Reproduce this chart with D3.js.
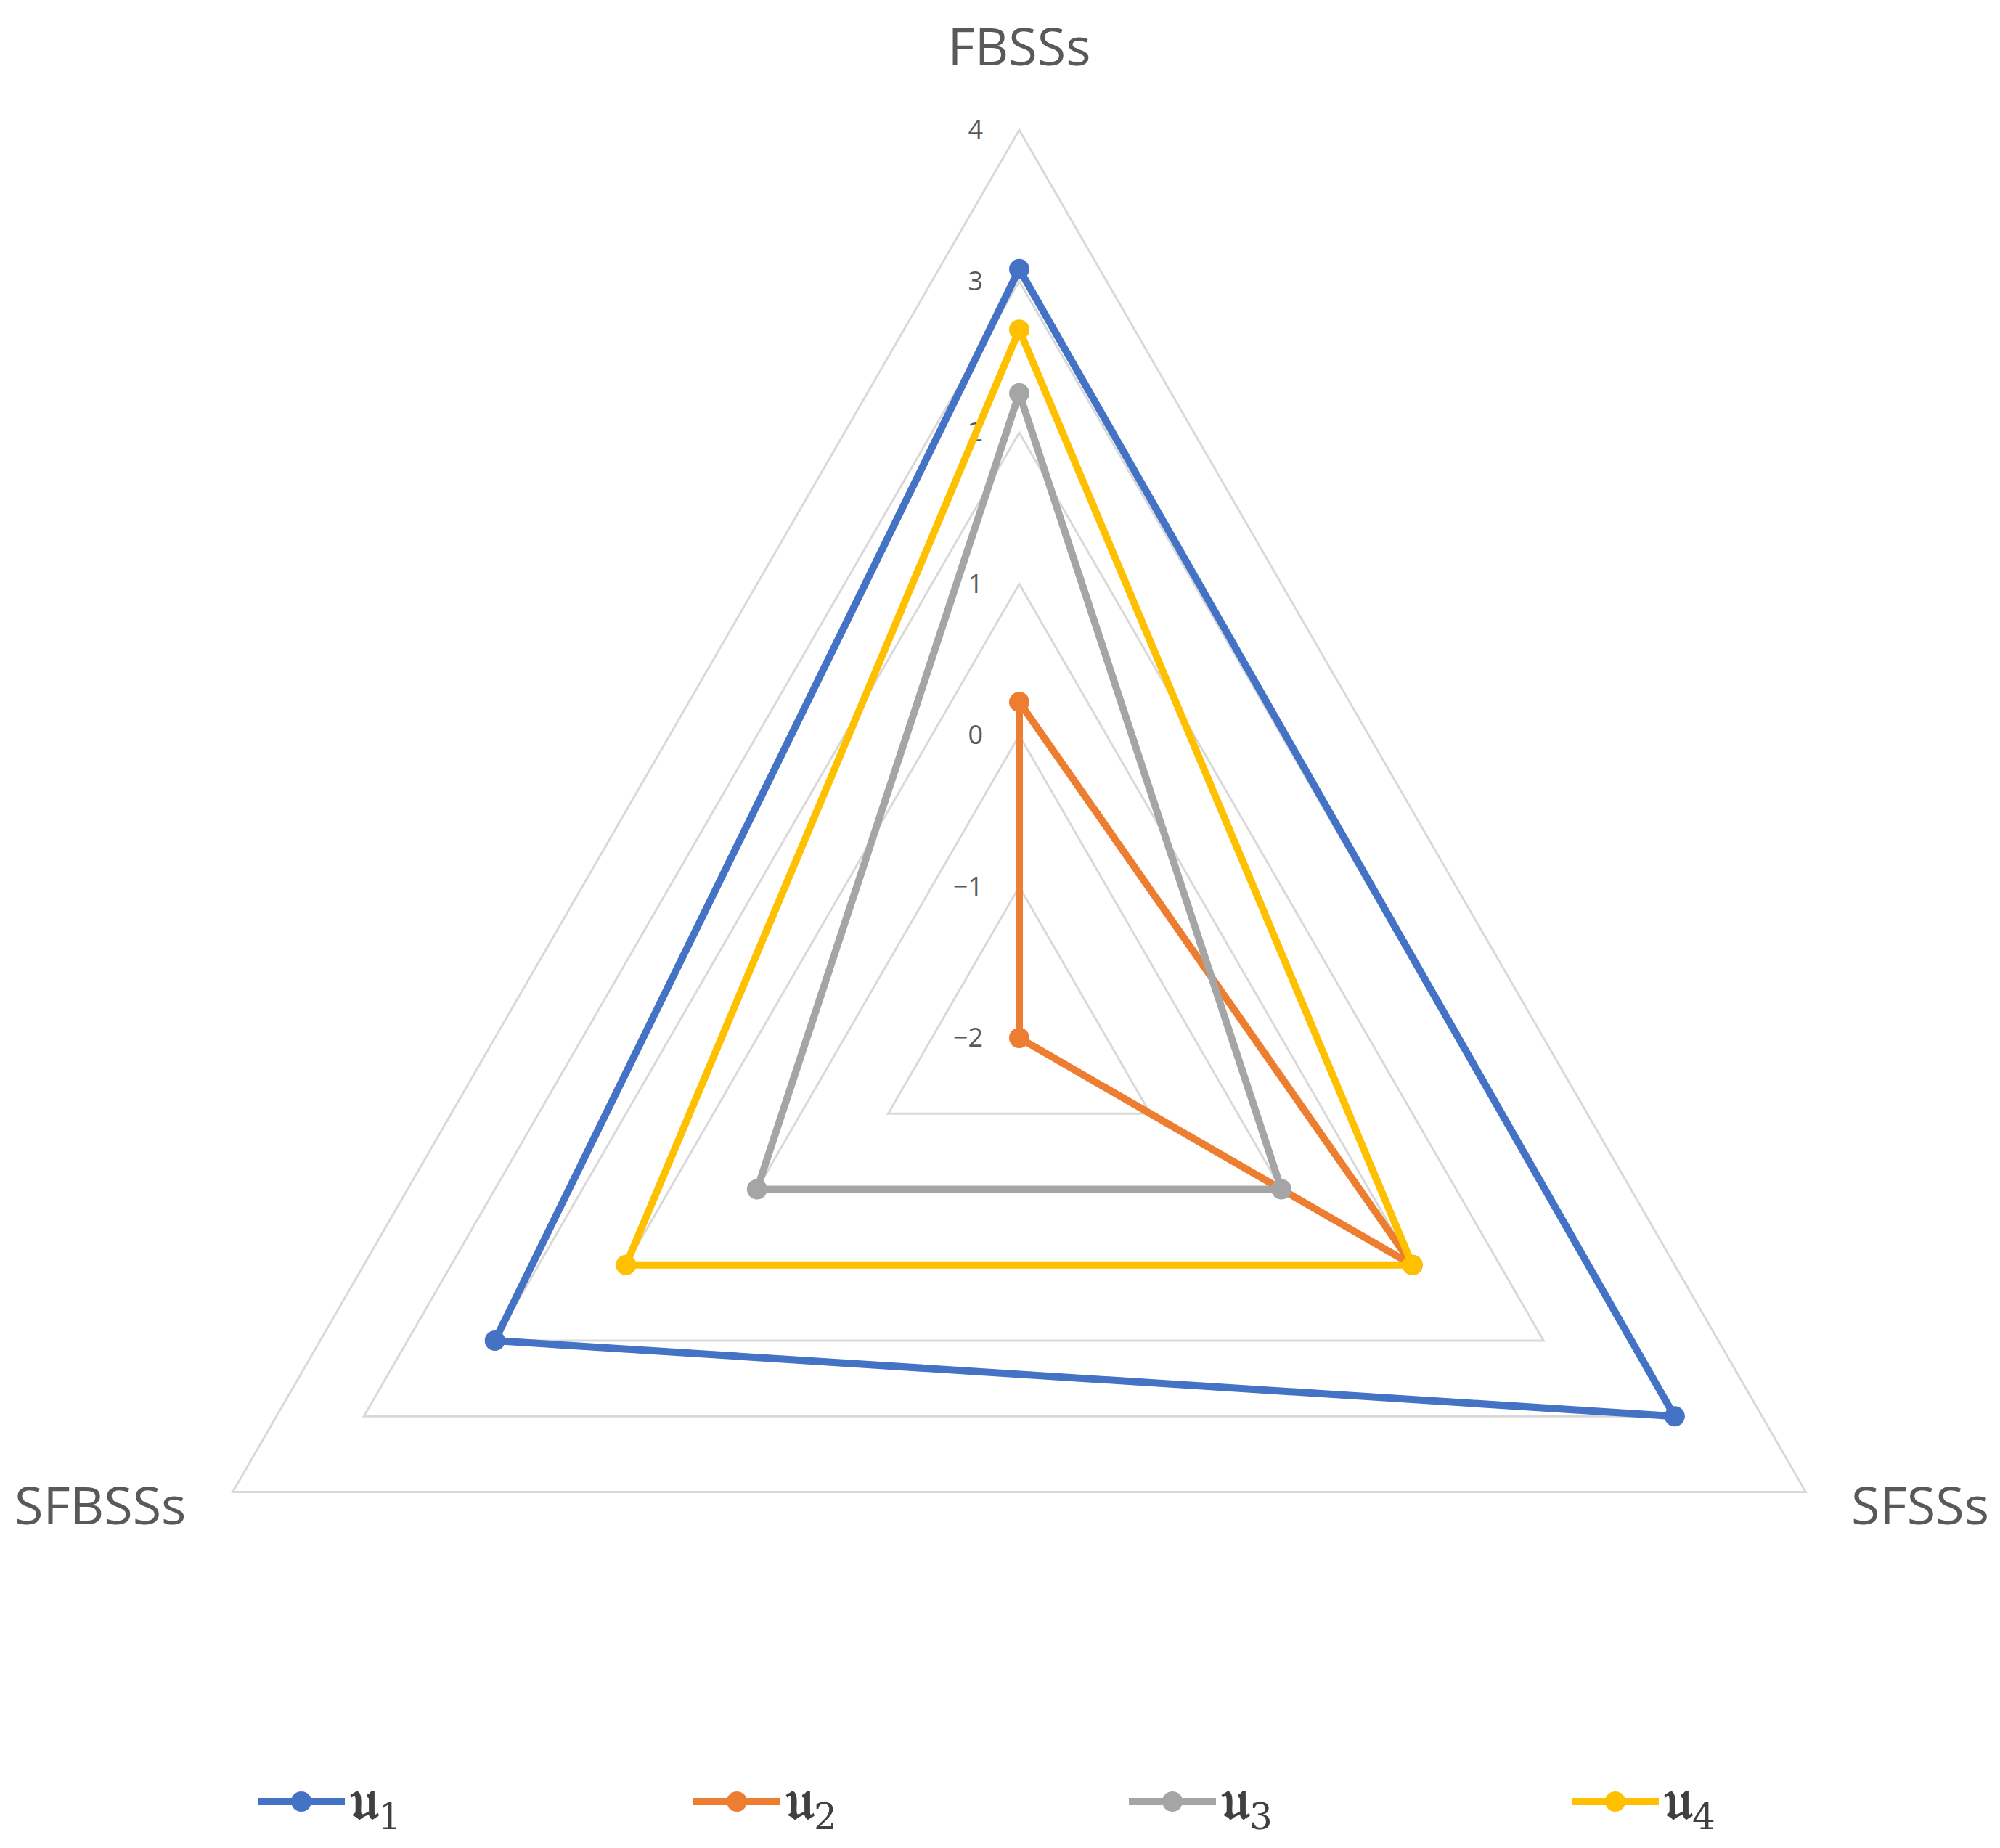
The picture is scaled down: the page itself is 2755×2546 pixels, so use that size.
<!DOCTYPE html>
<html><head><meta charset="utf-8">
<script src="https://cdn.jsdelivr.net/npm/d3@7"></script>
<style>body{margin:0;background:#fff}</style>
</head><body>
<svg id="c" width="2755" height="2546"></svg>
<script>
const axes = ["FBSSs", "SFSSs", "SFBSSs"];
const seriesNames = ["1", "2", "3", "4"];
const u1 = [3.08, 3.0, 2.0];
const u2 = [0.22, 1.0, -2.0];
const u3 = [2.26, 0.0, 0.0];
const u4 = [2.68, 1.0, 1.0];
const ticks = [-2, -1, 0, 1, 2, 3, 4];
const colors = ["#4472C4", "#ED7D31", "#A5A5A5", "#FFC000"];
const series = [u1, u2, u3, u4];

const svg = d3.select("#c");
const cx = 1404, cy = 1430, R = 1251;
const r = d3.scaleLinear().domain([-2, 4]).range([0, R]);
const ang = i => -Math.PI/2 + i*2*Math.PI/3;
const pt = (i, v) => [cx + r(v)*Math.cos(ang(i)), cy + r(v)*Math.sin(ang(i))];

// grid rings
ticks.filter(t => t > -2).forEach(t => {
  svg.append("polygon")
    .attr("points", axes.map((a,i)=>pt(i,t).join(",")).join(" "))
    .attr("fill","none").attr("stroke","#d9d9d9").attr("stroke-width",3);
});
// tick labels
svg.selectAll("text.tick").data(ticks).enter().append("text")
  .attr("x", cx - 50).attr("y", t => cy - r(t) + 12)
  .attr("text-anchor","end").attr("font-family","Open Sans, sans-serif")
  .attr("font-size",36).attr("fill","#595959")
  .text(t => t < 0 ? "\u2212" + Math.abs(t) : t);
// axis labels
const lab = [[cx, 90, "middle"], [2740, 2100, "end"], [20, 2100, "start"]];
axes.forEach((a,i)=>{
  svg.append("text").attr("x",lab[i][0]).attr("y",lab[i][1]).attr("text-anchor",lab[i][2])
    .attr("font-family","Open Sans, sans-serif").attr("font-size",72).attr("fill","#595959").text(a);
});
// series
series.forEach((s, k) => {
  const pts = s.map((v,i)=>pt(i,v));
  svg.append("polygon").attr("points", pts.map(p=>p.join(",")).join(" "))
    .attr("fill","none").attr("stroke",colors[k]).attr("stroke-width",10).attr("stroke-linejoin","round");
  pts.forEach(p => svg.append("circle").attr("cx",p[0]).attr("cy",p[1]).attr("r",14).attr("fill",colors[k]));
});
// legend
const lx = [355, 955, 1555, 2165];
seriesNames.forEach((n,k)=>{
  const g = svg.append("g").attr("transform",`translate(${lx[k]},2482)`);
  g.append("line").attr("x1",0).attr("x2",120).attr("stroke",colors[k]).attr("stroke-width",10);
  g.append("circle").attr("cx",60).attr("r",14).attr("fill",colors[k]);
  const t = g.append("text").attr("x",128).attr("y",24).attr("font-family","DejaVu Serif, serif")
    .attr("font-size",78).attr("font-weight","bold").attr("fill","#404040");
  t.append("tspan").text("\u{1D532}");
  t.append("tspan").attr("font-size",50).attr("font-weight","normal").attr("dy",14).text(n);
});
</script>
</body></html>
